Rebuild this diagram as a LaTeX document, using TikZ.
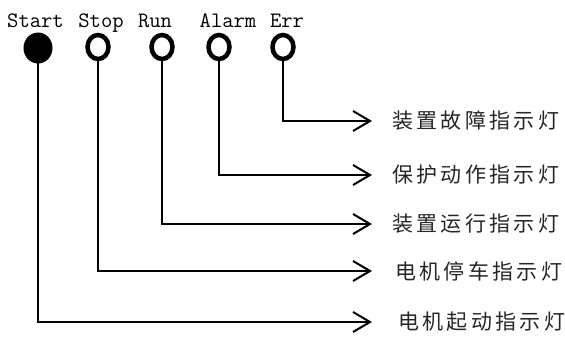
\documentclass[tikz,border=0pt]{standalone}
\usepackage{fontspec}
\newfontfamily\cjk[LetterSpace=16]{Noto Sans CJK SC}
\usetikzlibrary{arrows.meta,shapes.geometric}
\begin{document}
\begin{tikzpicture}[x=1pt,y=-1pt,
  lamp/.style={ellipse,draw=black,line width=4.5pt,fill=white,minimum width=21pt,minimum height=24pt,inner sep=0pt},
  lampon/.style={ellipse,fill=black,minimum width=29pt,minimum height=31pt,inner sep=0pt},
  tag/.style={font=\fontsize{22}{22}\selectfont\ttfamily,anchor=base,inner sep=0pt},
  lbl/.style={font=\fontsize{21}{21}\cjk,text=black!85,anchor=west,inner xsep=20pt,inner ysep=0pt},
  wire/.style={line width=2pt,-{Straight Barb[length=17pt,width=20pt,line width=2pt]}}]
\useasboundingbox (0,0) rectangle (565,338);
% labels
\node[lbl] (lerr) at (372,121) {装置故障指示灯};
\node[lbl] (lalarm) at (372,175) {保护动作指示灯};
\node[lbl] (lrun) at (372,224) {装置运行指示灯};
\node[lbl] (lstop) at (375,271) {电机停车指示灯};
\node[lbl] (lstart) at (378,322) {电机起动指示灯};
% lamp anchors
\coordinate (cstart) at (38,48);
\coordinate (cstop) at (98,47);
\coordinate (crun) at (162,47);
\coordinate (calarm) at (219,47);
\coordinate (cerr) at (283,47);
\coordinate (tstop) at (372,271);
\coordinate (tstart) at (372,322);
% wires
\draw[wire] (cerr) |- (lerr.west);
\draw[wire] (calarm) |- (lalarm.west);
\draw[wire] (crun) |- (lrun.west);
\draw[wire] (cstop) |- (tstop);
\draw[wire] (cstart) |- (tstart);
% lamps
\node[lampon] (start) at (cstart) {};
\node[lamp] (stop) at (cstop) {};
\node[lamp] (run) at (crun) {};
\node[lamp] (alarm) at (calarm) {};
\node[lamp] (err) at (cerr) {};
% tags
\node[tag] (tstartt) at (35.5,27) {Start};
\node[tag] (tstopt) at (101,27) {Stop};
\node[tag] (truns) at (155,27) {Run};
\node[tag] (talarm) at (228,27) {Alarm};
\node[tag] (terr) at (287,27) {Err};
\end{tikzpicture}
\end{document}
